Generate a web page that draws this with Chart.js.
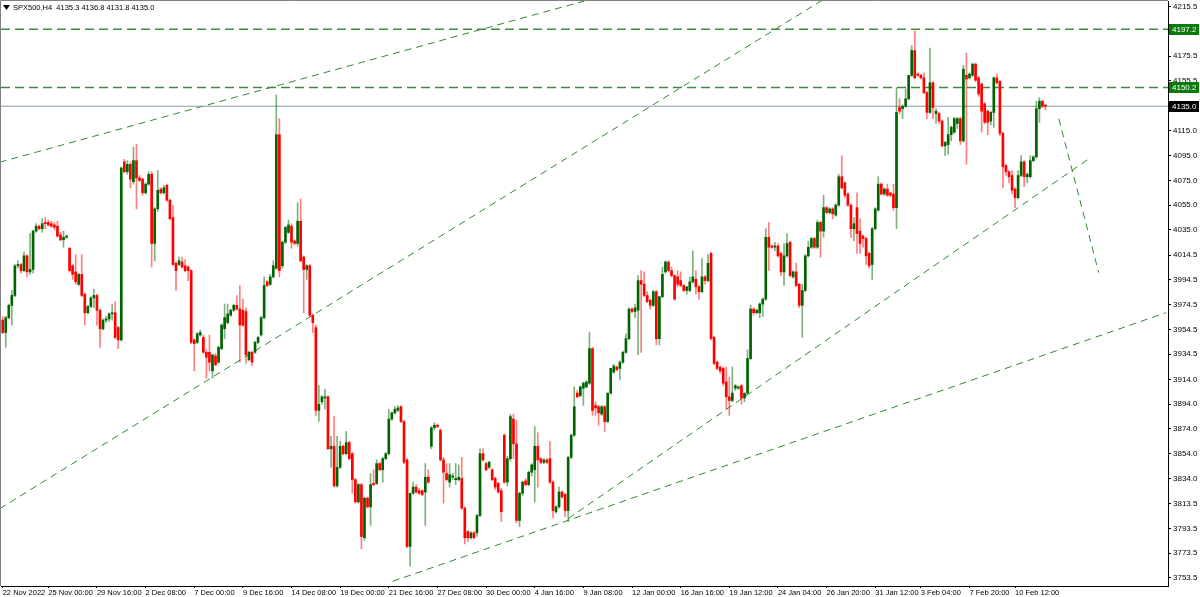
<!DOCTYPE html>
<html>
<head>
<meta charset="utf-8">
<title>SPX500,H4</title>
<script src="https://cdn.jsdelivr.net/npm/chart.js@4.4.0/dist/chart.umd.min.js"></script>
<style>
  html, body { margin: 0; padding: 0; background: #fff; }
  #wrap { width: 1200px; height: 597px; }
</style>
</head>
<body>
<div id="wrap"><canvas id="chart" width="1200" height="597"></canvas></div>
<script>
// SPX500 H4, one value per bar (bar 0 = 22 Nov 2022)
const opens = [
  3962,3952,3964,3974,3982,4006,4007,4002,4014,4001,
  4003,4034,4038,4036,4041,4041,4040,4039,4038,4031,
  4027,4029,4020,4006,4001,3991,3999,3983,3968,3973,
  3980,3982,3970,3955,3962,3963,3967,3968,3956,3946,
  4090,4082,4088,4074,4091,4077,4076,4065,4072,4080,
  4024,4052,4068,4065,4071,4059,4045,4008,4007,4009,
  4006,4005,4002,3946,3944,3950,3948,3936,3936,3921,
  3933,3928,3939,3955,3960,3966,3970,3974,3971,3970,
  3969,3930,3936,3936,3944,3950,3964,3993,3991,3997,
  4004,4112,4006,4025,4033,4038,4026,4024,4042,4013,
  4003,4006,3966,3956,3889,3896,3899,3900,3858,3860,
  3828,3843,3860,3854,3863,3854,3833,3815,3829,3786,
  3818,3811,3830,3830,3846,3841,3850,3854,3882,3887,
  3889,3892,3880,3849,3779,3822,3827,3824,3824,3823,
  3835,3860,3875,3877,3873,3849,3838,3831,3835,3833,
  3833,3834,3810,3791,3786,3790,3790,3804,3854,3846,
  3843,3841,3834,3830,3824,3869,3831,3850,3882,3862,
  3800,3822,3832,3829,3839,3841,3860,3850,3847,3849,
  3850,3831,3807,3811,3823,3821,3808,3851,3869,3903,
  3901,3907,3908,3911,3939,3893,3892,3886,3892,3880,
  3903,3920,3924,3923,3928,3936,3947,3971,3969,3970,
  3994,3991,3982,3978,3974,3985,3947,3981,4001,4009,
  4002,3998,3997,3994,3990,3986,3986,3993,3995,3989,
  3985,3997,3994,4016,3948,3928,3924,3923,3912,3900,
  3897,3907,3907,3909,3899,3903,3931,3971,3968,3968,
  3975,3979,4029,4022,4021,4022,4016,4001,4014,4025,
  3997,4001,3991,3974,3986,4014,4021,4028,4021,4041,
  4034,4053,4049,4052,4047,4055,4078,4073,4064,4055,
  4036,4053,4034,4030,4028,4016,4007,4036,4051,4072,
  4064,4068,4065,4064,4053,4134,4133,4135,4141,4160,
  4180,4161,4160,4158,4146,4130,4154,4129,4129,4123,
  4103,4104,4112,4114,4121,4125,4107,4160,4158,4160,
  4169,4158,4153,4137,4131,4123,4130,4158,4155,4113,
  4087,4082,4079,4068,4061,4079,4090,4078,4078,4091,
  4094,4133,4139,4135.3
];
const highs = [
  3965,3965,3975,3986,4007,4010,4008,4017,4015,4032,
  4035,4040,4039,4044,4045,4043,4042,4041,4042,4033,
  4034,4031,4021,4007,4015,4000,4015,3984,3974,3981,
  3987,3983,3971,3963,3965,3968,3975,3977,3957,4086,
  4092,4091,4090,4102,4104,4079,4077,4073,4082,4082,
  4053,4083,4069,4071,4072,4060,4055,4009,4013,4013,
  4011,4006,4003,3947,3952,3954,3950,3938,3950,3934,
  3935,3941,3959,3975,3975,3971,3975,3982,3990,3979,
  3972,3937,3937,3945,3949,3965,3997,3994,3999,4010,
  4144,4125,4026,4038,4043,4040,4027,4057,4060,4014,
  4007,4007,3967,3958,3909,3901,3906,3901,3868,3884,
  3868,3864,3861,3872,3864,3855,3834,3830,3830,3819,
  3819,3838,3841,3849,3847,3851,3855,3890,3888,3892,
  3893,3893,3881,3850,3822,3831,3829,3826,3825,3846,
  3841,3876,3879,3878,3874,3851,3846,3846,3838,3846,
  3845,3851,3811,3792,3791,3791,3805,3858,3858,3847,
  3848,3842,3835,3831,3826,3870,3852,3886,3886,3881,
  3823,3832,3834,3840,3846,3876,3871,3851,3850,3850,
  3864,3832,3812,3827,3824,3822,3852,3870,3908,3905,
  3909,3912,3913,3952,3940,3896,3893,3893,3893,3903,
  3923,3926,3925,3929,3937,3951,3972,3972,3975,3998,
  4002,4001,3985,3979,3986,3986,3981,4005,4010,4010,
  4005,3999,4002,4001,3991,3989,3997,4018,4002,3990,
  4012,3998,4015,4017,3949,3929,3925,3924,3924,3916,
  3924,3910,3909,3910,3903,3938,3974,3972,3971,3976,
  3980,4036,4041,4023,4025,4024,4017,4024,4032,4026,
  4002,4008,3992,3991,4015,4026,4029,4029,4043,4042,
  4063,4054,4053,4053,4056,4080,4095,4074,4065,4056,
  4045,4065,4044,4031,4029,4017,4037,4053,4078,4073,
  4069,4072,4065,4072,4150,4141,4136,4149,4160,4184,
  4196,4162,4161,4162,4147,4182,4155,4133,4130,4124,
  4106,4126,4119,4126,4126,4126,4168,4178,4162,4170,
  4170,4159,4154,4138,4132,4131,4159,4161,4156,4114,
  4088,4083,4083,4069,4083,4095,4091,4081,4095,4095,
  4139,4142,4140,4136.8
];
const lows = [
  3951,3940,3963,3958,3981,4004,4000,4001,3997,3999,
  4000,4033,4035,4033,4036,4038,4037,4035,4029,4026,
  4021,4028,4001,3995,3991,3990,3981,3958,3967,3972,
  3972,3958,3940,3954,3960,3961,3962,3947,3939,3945,
  4081,4080,4069,4072,4052,4074,4063,4064,4071,4005,
  4010,4050,4064,4064,4058,4043,4006,3986,4006,4004,
  4001,3994,3943,3921,3943,3949,3935,3915,3921,3915,
  3925,3927,3938,3947,3959,3965,3969,3970,3928,3957,
  3927,3929,3925,3935,3943,3949,3963,3989,3990,3996,
  4003,3997,4004,4024,4032,4020,4023,4022,4009,3968,
  3995,3965,3952,3885,3880,3894,3890,3857,3843,3827,
  3827,3842,3853,3853,3849,3822,3814,3814,3777,3784,
  3810,3796,3828,3829,3840,3831,3849,3853,3881,3886,
  3888,3879,3846,3778,3763,3821,3822,3821,3820,3796,
  3830,3858,3873,3875,3848,3814,3832,3827,3833,3829,
  3832,3809,3781,3783,3785,3785,3787,3803,3848,3840,
  3842,3832,3825,3822,3799,3830,3828,3848,3850,3798,
  3795,3820,3828,3828,3836,3815,3827,3846,3846,3846,
  3830,3802,3806,3810,3818,3803,3799,3850,3868,3899,
  3900,3893,3907,3910,3885,3885,3877,3885,3872,3879,
  3902,3919,3921,3914,3927,3935,3946,3968,3964,3934,
  3936,3981,3976,3971,3973,3942,3942,3980,4000,4001,
  3997,3978,3989,3989,3985,3983,3985,3992,3983,3979,
  3984,3991,3993,3946,3926,3922,3919,3909,3890,3885,
  3896,3905,3906,3894,3896,3902,3930,3966,3967,3964,
  3965,3978,4002,4020,4018,4013,3998,3990,4013,3997,
  3996,3989,3972,3948,3985,4013,4020,4020,4020,4013,
  4029,4048,4048,4044,4046,4054,4068,4061,4054,4029,
  4026,4016,4016,4021,4007,4004,3995,4035,4050,4063,
  4063,4062,4062,4051,4036,4129,4125,4134,4140,4159,
  4157,4159,4157,4145,4125,4129,4125,4121,4121,4102,
  4095,4096,4107,4113,4117,4104,4106,4088,4157,4159,
  4155,4143,4114,4121,4112,4120,4118,4153,4111,4069,
  4079,4073,4064,4053,4060,4078,4070,4073,4077,4090,
  4093,4122,4134,4131.8
];
const closes = [
  3952,3964,3974,3982,4006,4007,4002,4014,4001,4003,
  4034,4038,4036,4040,4040,4039,4038,4037,4030,4027,
  4029,4030,4002,3999,3993,3999,3982,3968,3973,3980,
  3982,3970,3955,3962,3963,3967,3968,3948,3946,4085,
  4082,4088,4076,4091,4077,4075,4065,4072,4080,4024,
  4052,4067,4065,4069,4059,4044,4007,4002,4010,4005,
  4002,4002,3944,3943,3951,3952,3936,3932,3928,3934,
  3926,3940,3958,3964,3967,3970,3974,3971,3958,3958,
  3934,3936,3928,3944,3948,3964,3990,3990,3997,4006,
  4112,4002,4025,4037,4039,4025,4024,4042,4010,4003,
  4006,3966,3960,3889,3894,3900,3900,3858,3860,3828,
  3843,3860,3854,3863,3850,3833,3815,3829,3787,3818,
  3811,3829,3829,3846,3841,3850,3854,3882,3887,3890,
  3891,3880,3847,3779,3822,3827,3823,3822,3821,3835,
  3831,3875,3877,3876,3849,3839,3833,3837,3836,3834,
  3835,3810,3786,3786,3790,3786,3804,3854,3849,3841,
  3847,3833,3827,3823,3807,3831,3850,3884,3862,3800,
  3822,3831,3829,3839,3845,3860,3849,3847,3849,3847,
  3831,3808,3811,3823,3819,3808,3851,3869,3892,3900,
  3908,3911,3912,3939,3889,3891,3887,3892,3880,3903,
  3923,3925,3922,3928,3936,3947,3971,3969,3972,3994,
  3991,3982,3977,3974,3985,3947,3981,3999,4009,4002,
  3998,3979,3991,3990,3986,3989,3993,3997,3989,3985,
  3997,3994,4008,3947,3927,3923,3921,3911,3900,3897,
  3903,3909,3908,3899,3903,3931,3971,3968,3970,3975,
  3979,4029,4021,4021,4022,4014,4001,4014,4024,3998,
  4001,3990,3974,3986,4014,4021,4028,4021,4041,4034,
  4053,4049,4052,4048,4055,4078,4069,4063,4055,4036,
  4040,4032,4024,4028,4014,4006,4036,4052,4072,4064,
  4068,4063,4063,4053,4130,4131,4135,4141,4160,4180,
  4158,4160,4158,4146,4130,4154,4134,4131,4123,4103,
  4106,4112,4118,4125,4125,4107,4165,4157,4161,4169,
  4156,4145,4131,4122,4122,4130,4158,4154,4113,4086,
  4082,4078,4067,4061,4079,4090,4078,4080,4091,4094,
  4133,4139,4135,4135.0
];

// time axis: bar index of each label and its text
const xTickBars = [0, 15, 31, 47, 63, 79, 95, 111, 127, 143, 159, 175, 191, 207, 223, 239, 255, 271, 287, 302, 318, 333];
const xTickLabels = ["22 Nov 2022", "25 Nov 00:00", "29 Nov 16:00", "2 Dec 08:00", "7 Dec 00:00", "9 Dec 16:00",
  "14 Dec 08:00", "19 Dec 00:00", "21 Dec 16:00", "27 Dec 08:00", "30 Dec 00:00", "4 Jan 16:00",
  "9 Jan 08:00", "12 Jan 00:00", "16 Jan 16:00", "19 Jan 12:00", "24 Jan 04:00", "26 Jan 20:00",
  "31 Jan 12:00", "3 Feb 04:00", "7 Feb 20:00", "10 Feb 12:00"];

// price axis
const yTicks = [4215.5, 4195.5, 4175.5, 4155.5, 4135.5, 4115.0, 4095.0, 4075.0, 4055.0, 4035.0, 4014.5, 3994.5,
  3974.5, 3954.5, 3934.5, 3914.0, 3894.0, 3874.0, 3854.0, 3834.0, 3813.5, 3793.5, 3773.5, 3753.5];

// drawn levels and trend lines, [bar, price]
const levels = [4197.2, 4150.2];
const bidPrice = 4135.0;
const trendA = [[-1, 4089.7], [200, 4226.0]];
const trendB = [[-1, 3809.5], [280, 4236.6]];
const trendC = [[186, 3801.5], [357, 4092.0]];
const trendD = [[128.3, 3750.8], [382.6, 3968.0]];
const trendE = [[347.4, 4124.8], [360.5, 4000.5]];

const xMin = -0.56, xMax = 383.3;
const FONT = "Liberation Sans, Arial, sans-serif";
const UP = "#006400", DOWN = "#ff0000";

function isUp(i) {
  return closes[i] >= opens[i];
}

const bodyData = opens.map((o, i) => ({ x: i, y: [o, closes[i]] }));
const wickData = highs.map((h, i) => ({ x: i, y: [lows[i], h] }));

function lineSet(pts, color, width, dash) {
  return {
    type: "line",
    data: pts.map((p) => ({ x: p[0], y: p[1] })),
    borderColor: color,
    borderWidth: width,
    borderDash: dash,
    pointRadius: 0,
    fill: false,
    tension: 0,
  };
}

const overlay = {
  id: "overlay",
  afterDraw(chart) {
    const { ctx, chartArea: a, scales } = chart;
    const y = scales.y;
    ctx.save();
    // frame left / top
    ctx.strokeStyle = "#808080";
    ctx.lineWidth = 1;
    ctx.beginPath();
    ctx.moveTo(a.left - 0.5, a.bottom);
    ctx.lineTo(a.left - 0.5, a.top - 0.5);
    ctx.lineTo(a.right, a.top - 0.5);
    ctx.stroke();

    // header
    ctx.fillStyle = "#000";
    ctx.beginPath();
    ctx.moveTo(3, 5);
    ctx.lineTo(10, 5);
    ctx.lineTo(6.5, 10);
    ctx.closePath();
    ctx.fill();
    const n = closes.length - 1;
    const head = "SPX500,H4  " + [opens[n], highs[n], lows[n], closes[n]].map((v) => v.toFixed(1)).join(" ");
    ctx.font = "7.5px " + FONT;
    ctx.textBaseline = "middle";
    ctx.textAlign = "left";
    ctx.fillText(head, 13, 8);

    // price tags on the axis
    const tag = (v, bg, fg) => {
      const py = Math.round(y.getPixelForValue(v));
      ctx.fillStyle = bg;
      ctx.fillRect(a.right + 1, py - 5, 30, 11);
      ctx.fillStyle = fg;
      ctx.font = "8px " + FONT;
      ctx.fillText(v.toFixed(1), a.right + 4, py + 0.5);
    };
    tag(levels[0], "#0a7a0a", "#fff");
    tag(levels[1], "#0a7a0a", "#fff");
    tag(bidPrice, "#000", "#fff");
    ctx.restore();
  },
};

new Chart(document.getElementById("chart").getContext("2d"), {
  type: "bar",
  plugins: [overlay],
  data: {
    datasets: [
      {
        data: bodyData,
        grouped: false,
        barThickness: 2,
        minBarLength: 1,
        borderWidth: 0,
        backgroundColor: (c) => (isUp(c.dataIndex) ? UP : DOWN),
      },
      {
        data: wickData,
        grouped: false,
        barThickness: 1,
        borderWidth: 0,
        backgroundColor: (c) => (isUp(c.dataIndex) ? "rgba(0,100,0,0.5)" : "rgba(255,0,0,0.5)"),
      },
      lineSet([[xMin, bidPrice], [xMax, bidPrice]], "#8a9aaa", 1, []),
      lineSet([[xMin, levels[0]], [xMax, levels[0]]], "#3c8c3c", 1.5, [9, 5]),
      lineSet([[xMin, levels[1]], [xMax, levels[1]]], "#3c8c3c", 1.5, [9, 5]),
      lineSet(trendA, "#2e8b2e", 1, [7, 5]),
      lineSet(trendB, "#2e8b2e", 1, [7, 5]),
      lineSet(trendC, "#2e8b2e", 1, [7, 5]),
      lineSet(trendD, "#2e8b2e", 1, [7, 5]),
      lineSet(trendE, "#2e8b2e", 1, [7, 5]),
    ],
  },
  options: {
    responsive: false,
    animation: false,
    events: [],
    layout: { padding: { left: 1, top: 1, right: 0, bottom: 0 } },
    plugins: {
      legend: { display: false },
      tooltip: { enabled: false },
    },
    scales: {
      x: {
        type: "linear",
        offset: false,
        min: xMin,
        max: xMax,
        afterBuildTicks: (scale) => {
          scale.ticks = xTickBars.map((v) => ({ value: v }));
        },
        afterFit: (scale) => {
          scale.height = 11;
          scale.paddingLeft = 0;
          scale.paddingRight = 0;
        },
        ticks: {
          autoSkip: false,
          maxRotation: 0,
          minRotation: 0,
          align: "start",
          padding: 0,
          color: "#000",
          font: { family: FONT, size: 7.5 },
          callback: (v, i) => xTickLabels[i],
        },
        grid: { offset: false, drawOnChartArea: false, tickLength: 2, color: "#000" },
        border: { display: true, color: "#000" },
      },
      y: {
        type: "linear",
        position: "right",
        min: 3747,
        max: 4220.1,
        afterBuildTicks: (scale) => {
          scale.ticks = yTicks.map((v) => ({ value: v }));
        },
        afterFit: (scale) => {
          scale.width = 32;
          scale.paddingTop = 0;
          scale.paddingBottom = 0;
        },
        ticks: {
          padding: 2,
          color: "#000",
          font: { family: FONT, size: 8 },
          callback: (v) => v.toFixed(1),
        },
        grid: { drawOnChartArea: false, tickLength: 3, color: "#000" },
        border: { display: true, color: "#000" },
      },
    },
  },
});
</script>
</body>
</html>
